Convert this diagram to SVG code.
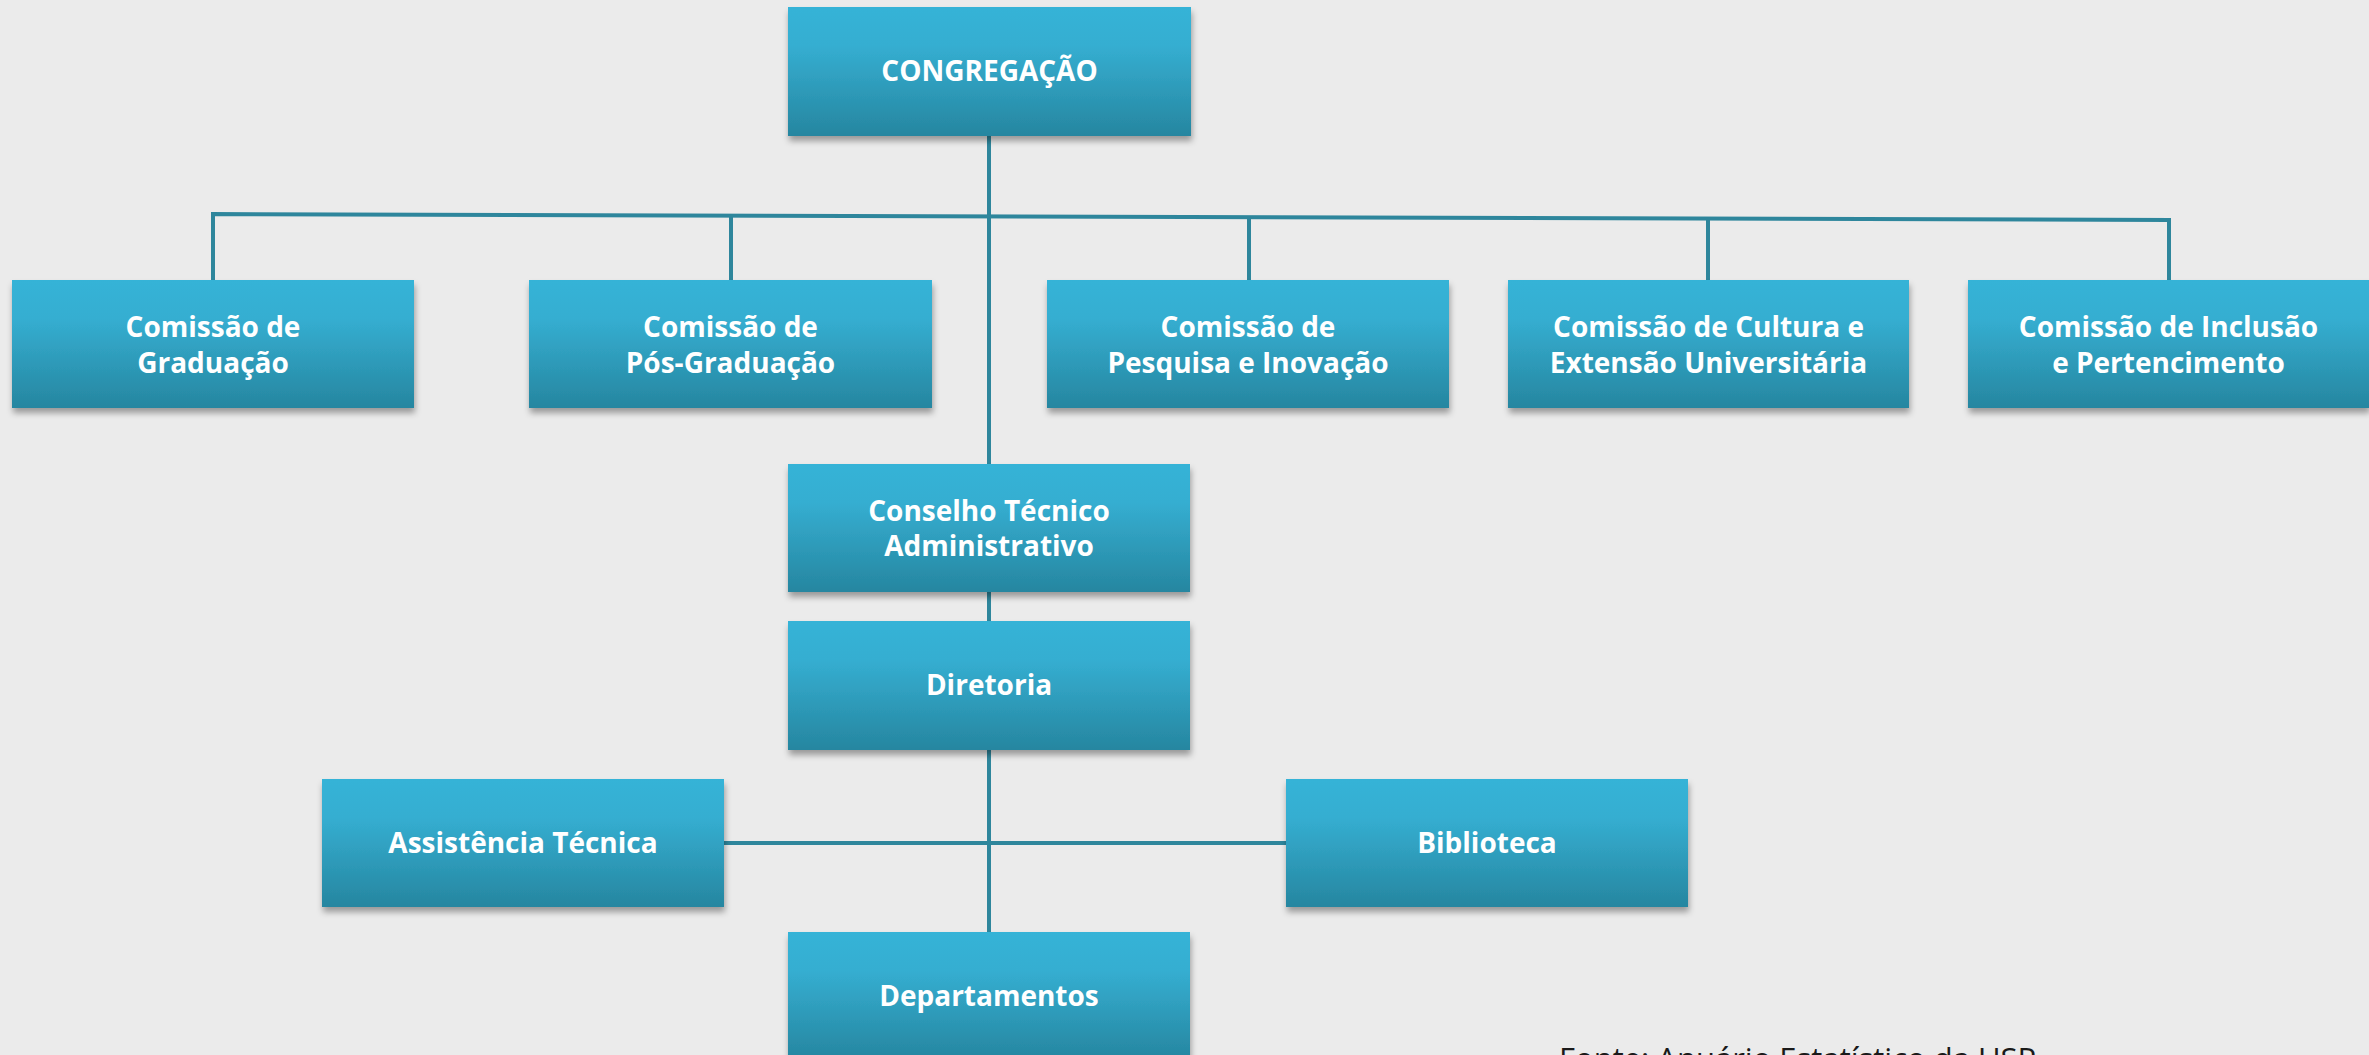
<svg xmlns="http://www.w3.org/2000/svg" width="2369" height="1055" viewBox="0 0 2369 1055">
  <defs>
    <linearGradient id="boxGrad" x1="0" y1="0" x2="0" y2="1">
      <stop offset="0" stop-color="#36b3d7"/>
      <stop offset="0.3" stop-color="#35aed1"/>
      <stop offset="1" stop-color="#2686a0"/>
    </linearGradient>
    <filter id="shadow" x="-10%" y="-10%" width="120%" height="130%">
      <feDropShadow dx="1" dy="5" stdDeviation="3" flood-color="#000" flood-opacity="0.35"/>
    </filter>
  </defs>
  <style>
    .box { fill: url(#boxGrad); filter: url(#shadow); }
    .lbl { font-family: "Open Sans", "Noto Sans", "Liberation Sans", sans-serif; font-weight: bold; font-size: 28px; fill: #ffffff; text-anchor: middle; }
    .conn { stroke: #2e869c; stroke-width: 4; fill: none; }
    .src { font-family: "Open Sans", "Noto Sans", "Liberation Sans", sans-serif; font-size: 31px; fill: #1a1a1a; }
  </style>
  <rect x="0" y="0" width="2369" height="1055" fill="#ebebeb"/>

  <g id="connectors">
    <line class="conn" x1="989" y1="136" x2="989" y2="464"/>
    <path class="conn" d="M213,280 V214 L2169,220 V280"/>
    <line class="conn" x1="731" y1="215" x2="731" y2="280"/>
    <line class="conn" x1="1249" y1="217" x2="1249" y2="280"/>
    <line class="conn" x1="1708" y1="218" x2="1708" y2="280"/>
    <line class="conn" x1="989" y1="592" x2="989" y2="621"/>
    <line class="conn" x1="989" y1="750" x2="989" y2="932"/>
    <line class="conn" x1="724" y1="843" x2="1286" y2="843"/>
  </g>

  <g id="congregacao">
    <rect class="box" x="788" y="7" width="403" height="129"/>
    <text class="lbl" x="989.5" y="81">CONGREGAÇÃO</text>
  </g>
  <g id="graduacao">
    <rect class="box" x="12" y="280" width="402" height="128"/>
    <text class="lbl" x="213" y="337">Comissão de</text>
    <text class="lbl" x="213" y="373">Graduação</text>
  </g>
  <g id="pos-graduacao">
    <rect class="box" x="529" y="280" width="403" height="128"/>
    <text class="lbl" x="730.5" y="337">Comissão de</text>
    <text class="lbl" x="730.5" y="373">Pós-Graduação</text>
  </g>
  <g id="pesquisa">
    <rect class="box" x="1047" y="280" width="402" height="128"/>
    <text class="lbl" x="1248" y="337">Comissão de</text>
    <text class="lbl" x="1248" y="373">Pesquisa e Inovação</text>
  </g>
  <g id="cultura">
    <rect class="box" x="1508" y="280" width="401" height="128"/>
    <text class="lbl" x="1708.5" y="337">Comissão de Cultura e</text>
    <text class="lbl" x="1708.5" y="373">Extensão Universitária</text>
  </g>
  <g id="inclusao">
    <rect class="box" x="1968" y="280" width="401" height="128"/>
    <text class="lbl" x="2168.5" y="337">Comissão de Inclusão</text>
    <text class="lbl" x="2168.5" y="373">e Pertencimento</text>
  </g>
  <g id="conselho">
    <rect class="box" x="788" y="464" width="402" height="128"/>
    <text class="lbl" x="989" y="521">Conselho Técnico</text>
    <text class="lbl" x="989" y="556">Administrativo</text>
  </g>
  <g id="diretoria">
    <rect class="box" x="788" y="621" width="402" height="129"/>
    <text class="lbl" x="989" y="695">Diretoria</text>
  </g>
  <g id="assistencia">
    <rect class="box" x="322" y="779" width="402" height="128"/>
    <text class="lbl" x="523" y="853">Assistência Técnica</text>
  </g>
  <g id="biblioteca">
    <rect class="box" x="1286" y="779" width="402" height="128"/>
    <text class="lbl" x="1487" y="853">Biblioteca</text>
  </g>
  <g id="departamentos">
    <rect class="box" x="788" y="932" width="402" height="128"/>
    <text class="lbl" x="989" y="1006">Departamentos</text>
  </g>
  <text class="src" x="1559" y="1070">Fonte: Anuário Estatístico da USP</text>
</svg>
